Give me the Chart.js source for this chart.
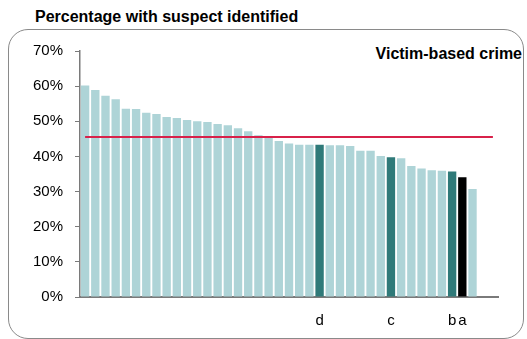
<!DOCTYPE html>
<html>
<head>
<meta charset="utf-8">
<script src="https://cdn.jsdelivr.net/npm/chart.js@4.4.1/dist/chart.umd.min.js"></script>
<style>
  html, body { margin: 0; padding: 0; background: #fff; }
  #wrap { position: relative; width: 527px; height: 339px; overflow: hidden; font-family: "Liberation Sans", Arial, sans-serif; }
  #frame { position: absolute; left: 8px; top: 29px; width: 516px; height: 310px; box-sizing: border-box;
           border: 1.5px solid #8a8a8a; border-radius: 20px; }
  #title { position: absolute; left: 35px; top: 8px; font-size: 16px; font-weight: bold; color: #000; white-space: nowrap; }
  #panel { position: absolute; right: 5px; top: 45px; font-size: 16px; font-weight: bold; color: #000; white-space: nowrap; }
  canvas { position: absolute; left: 0; top: 0; }
</style>
</head>
<body>
<div id="wrap">
  <div id="frame"></div>
  <div id="title">Percentage with suspect identified</div>
  <div id="panel">Victim-based crime</div>
  <canvas id="chart" width="527" height="339"></canvas>
</div>
<script>
// ================= DATA =================
// forces, sorted by detection rate (only the highlighted ones are named)
const forces = ["", "", "", "", "", "", "", "", "", "",
                "", "", "", "", "", "", "", "", "", "",
                "", "", "", "d", "", "", "", "", "", "",
                "c", "", "", "", "", "", "b", "a", ""];
const rates = [60.2, 58.9, 57.3, 56.3, 53.6, 53.5, 52.4, 52.1, 51.2, 50.9,
               50.4, 50.0, 49.8, 49.2, 48.9, 48.0, 47.2, 46.0, 45.4, 44.4,
               43.7, 43.3, 43.3, 43.3, 43.2, 43.2, 43.0, 41.6, 41.6, 40.1,
               39.8, 39.5, 37.3, 36.6, 36.1, 35.9, 35.7, 34.1, 30.7];
const spareSlots = ["", ""];      // empty room at the right end of the axis
const average = 45.5;             // national average line
const yTicks = [0, 10, 20, 30, 40, 50, 60, 70];

const LIGHT = "#aed4d7", DARK = "#2f7a79", BLACK = "#000000", RED = "#d8214a", AXIS = "#7a7a7a";

// ================= BUILD =================
const labels = forces.concat(spareSlots);
const barColors = forces.map(f => f === "a" ? BLACK : (f ? DARK : LIGHT));

// average line across every slot, from first to last category centre
const averageLine = {
  id: "averageLine",
  afterDatasetsDraw(chart) {
    const { ctx, scales: { x, y } } = chart;
    const py = y.getPixelForValue(average);
    ctx.save();
    ctx.strokeStyle = RED;
    ctx.lineWidth = 2;
    ctx.beginPath();
    ctx.moveTo(x.getPixelForValue(0), py);
    ctx.lineTo(x.getPixelForValue(labels.length - 1), py);
    ctx.stroke();
    ctx.restore();
  }
};

new Chart(document.getElementById("chart"), {
  type: "bar",
  data: {
    labels: labels,
    datasets: [{
      data: rates,
      backgroundColor: barColors,
      borderWidth: 0,
      barPercentage: 0.82,
      categoryPercentage: 1
    }]
  },
  options: {
    responsive: false,
    animation: false,
    devicePixelRatio: 1,
    layout: { padding: { left: 30, top: 51, right: 29, bottom: 10 } },
    plugins: { legend: { display: false }, tooltip: { enabled: false } },
    scales: {
      x: {
        offset: true,
        grid: { display: false, drawTicks: false },
        border: { display: true, color: AXIS, width: 2 },
        ticks: {
          autoSkip: false, maxRotation: 0, minRotation: 0, padding: 15,
          color: "#000", font: { family: "Liberation Sans", size: 15 }
        },
        afterFit: s => { s.height = 32; }
      },
      y: {
        min: yTicks[0], max: yTicks[yTicks.length - 1],
        afterBuildTicks: s => { s.ticks = yTicks.map(v => ({ value: v })); },
        grid: { drawOnChartArea: false, tickLength: 5, color: AXIS, tickWidth: 1 },
        border: { display: true, color: AXIS, width: 1.5 },
        ticks: {
          padding: 12, color: "#000",
          font: { family: "Liberation Sans", size: 15 },
          callback: v => v + "%"
        },
        afterFit: s => { s.width = 50; }
      }
    }
  },
  plugins: [averageLine]
});
</script>
</body>
</html>
